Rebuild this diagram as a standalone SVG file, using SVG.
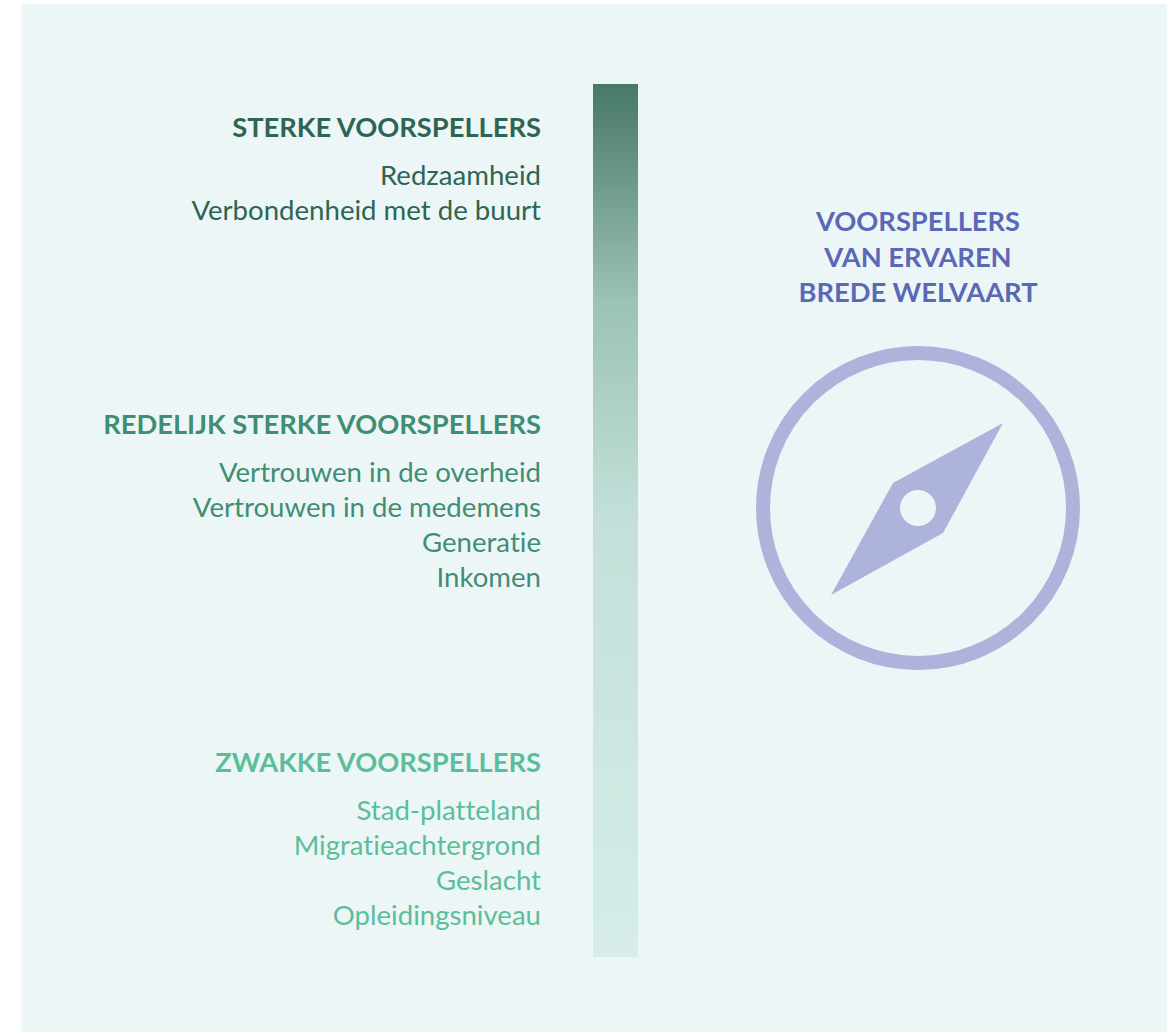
<svg xmlns="http://www.w3.org/2000/svg" width="1176" height="1032" viewBox="0 0 1176 1032">
<defs>
<linearGradient id="barGrad" x1="0" y1="0" x2="0" y2="1">
<stop offset="0" stop-color="#477868"/>
<stop offset="0.25" stop-color="#9DC2B6"/>
<stop offset="0.5" stop-color="#C2E0D9"/>
<stop offset="1" stop-color="#D6EDE8"/>
</linearGradient>
<style>
text{font-family:Lato,"Liberation Sans",sans-serif;font-variant-ligatures:none;font-feature-settings:"liga" 0;}
.h{font-weight:bold;font-size:27.3px;text-anchor:end;}
.b{font-size:27.6px;text-anchor:end;}
.t{font-weight:bold;font-size:27.3px;text-anchor:middle;fill:#5A68B5;}
.g1{fill:#2E6552;}
.g2{fill:#3F8E74;}
.g3{fill:#5BBE9A;}
</style>
</defs>
<rect x="0" y="0" width="1176" height="1032" fill="#FFFFFF"/>
<rect x="21" y="4" width="1146" height="1028" fill="#EDF6F7"/>
<g id="bar"><rect x="593" y="84" width="45" height="873" fill="url(#barGrad)"/></g>
<g id="strong" class="g1">
<text class="h" x="541" y="137">STERKE VOORSPELLERS</text>
<text class="b" x="541" y="185">Redzaamheid</text>
<text class="b" x="541" y="220">Verbondenheid met de buurt</text>
</g>
<g id="fair" class="g2">
<text class="h" x="541" y="434">REDELIJK STERKE VOORSPELLERS</text>
<text class="b" x="541" y="482">Vertrouwen in de overheid</text>
<text class="b" x="541" y="517">Vertrouwen in de medemens</text>
<text class="b" x="541" y="552">Generatie</text>
<text class="b" x="541" y="587">Inkomen</text>
</g>
<g id="weak" class="g3">
<text class="h" x="541" y="772">ZWAKKE VOORSPELLERS</text>
<text class="b" x="541" y="820">Stad-platteland</text>
<text class="b" x="541" y="855">Migratieachtergrond</text>
<text class="b" x="541" y="890">Geslacht</text>
<text class="b" x="541" y="925">Opleidingsniveau</text>
</g>
<g id="title">
<text class="t" x="918" y="231">VOORSPELLERS</text>
<text class="t" x="918" y="267">VAN ERVAREN</text>
<text class="t" x="918" y="302">BREDE WELVAART</text>
</g>
<g id="compass" fill="#ADB3DA">
<circle cx="918" cy="508" r="155" fill="none" stroke="#ADB3DA" stroke-width="14"/>
<path fill-rule="evenodd" d="M1003 423 L943 533 L831 595 L893 483 Z M936 508 A18 18 0 1 0 900 508 A18 18 0 1 0 936 508 Z"/>
</g>
</svg>
